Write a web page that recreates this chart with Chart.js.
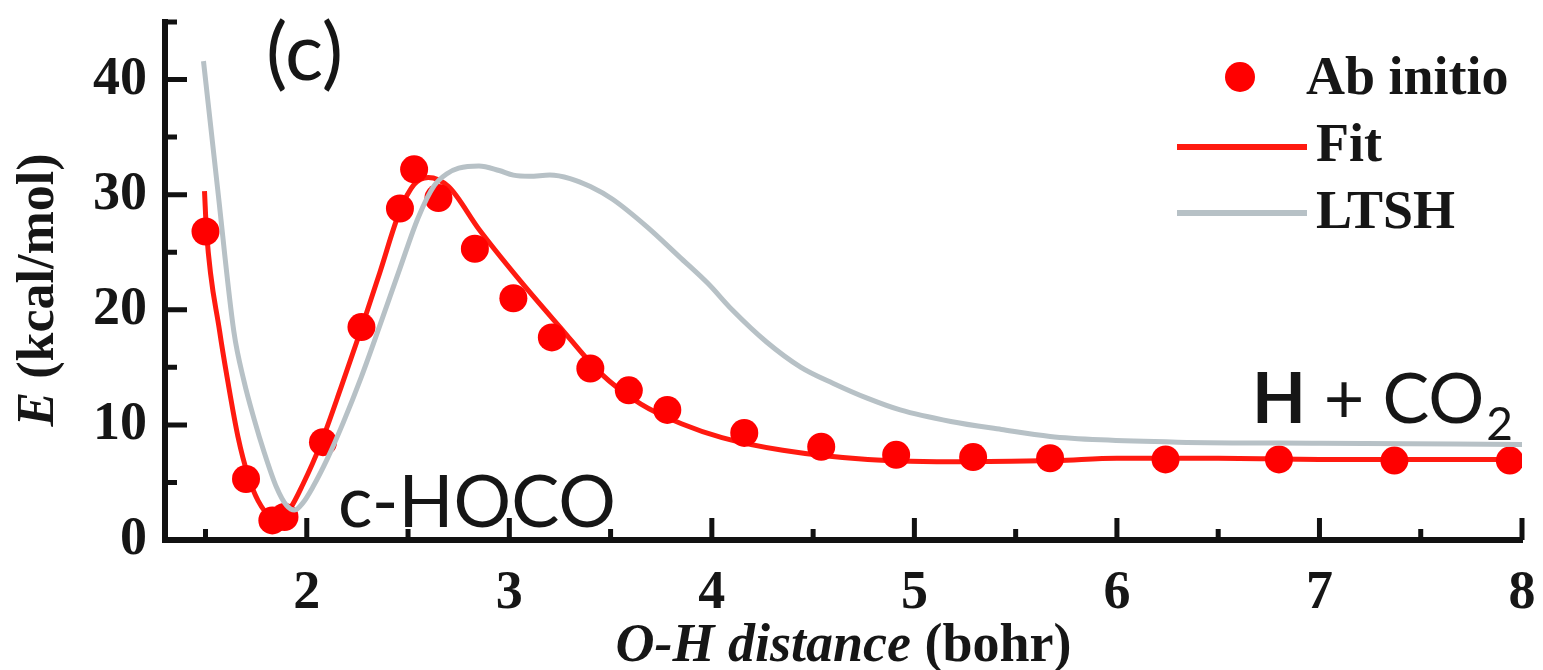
<!DOCTYPE html>
<html>
<head>
<meta charset="utf-8">
<script src="https://cdn.jsdelivr.net/npm/chart.js@4.4.0/dist/chart.umd.min.js"></script>
<style>
  html, body { margin: 0; padding: 0; background: #fff; }
  canvas { display: block; }
</style>
</head>
<body>
<canvas id="pesChart" width="1543" height="670"></canvas>
<script>
// ab initio points (O-H distance in bohr, energy in kcal/mol)
const abX = [1.50, 1.70, 1.83, 1.89, 2.08, 2.27, 2.46, 2.53, 2.65, 2.83, 3.02, 3.21, 3.40, 3.59, 3.78, 4.16, 4.54, 4.91, 5.29, 5.67, 6.24, 6.80, 7.37, 7.94];
const abY = [26.8, 5.3, 1.7, 2.0, 8.5, 18.5, 28.8, 32.2, 29.7, 25.3, 21.0, 17.6, 14.9, 13.0, 11.3, 9.3, 8.1, 7.4, 7.2, 7.1, 7.0, 7.0, 6.9, 6.9];

// fitted curve
const fitX = [1.495, 1.505, 1.57, 1.61, 1.66, 1.71, 1.76, 1.82, 1.87, 1.92, 1.98, 2.07, 2.17, 2.27, 2.36, 2.46, 2.53, 2.60, 2.70, 2.85, 3.05, 3.25, 3.45, 3.65, 3.85, 4.05, 4.35, 4.77, 5.26, 5.70, 6.00, 6.50, 7.00, 8.00];
const fitY = [30.3, 26.8, 18.1, 13.8, 9.0, 5.6, 3.4, 2.1, 2.0, 2.8, 4.8, 8.4, 13.3, 18.4, 23.2, 28.6, 30.9, 31.5, 30.7, 27.0, 22.6, 18.5, 14.5, 11.8, 10.1, 8.9, 7.8, 7.0, 6.8, 6.9, 7.1, 7.1, 7.0, 7.0];

// LTSH surface
const ltshX = [1.49, 1.56, 1.64, 1.69, 1.74, 1.79, 1.85, 1.90, 1.94, 1.98, 2.03, 2.10, 2.18, 2.27, 2.36, 2.46, 2.55, 2.63, 2.69, 2.75, 2.85, 2.95, 3.02, 3.10, 3.20, 3.30, 3.40, 3.51, 3.68, 3.84, 3.98, 4.10, 4.27, 4.44, 4.60, 4.77, 4.93, 5.18, 5.43, 5.67, 5.92, 6.30, 7.00, 8.00];
const ltshY = [41.6, 30.5, 18.1, 13.8, 10.5, 7.6, 4.6, 3.0, 2.6, 3.2, 4.6, 7.0, 10.2, 14.2, 18.6, 23.6, 28.0, 30.8, 31.8, 32.3, 32.5, 32.1, 31.7, 31.6, 31.7, 31.4, 30.7, 29.6, 27.2, 24.6, 22.3, 20.0, 17.2, 15.0, 13.6, 12.3, 11.3, 10.3, 9.6, 9.0, 8.7, 8.5, 8.4, 8.3];

const xTicks = [2, 3, 4, 5, 6, 7, 8];
const xMinor = [1.5, 2.5, 3.5, 4.5, 5.5, 6.5, 7.5];
const yTicks = [0, 10, 20, 30, 40];
const yMinor = [5, 15, 25, 35, 45];

const pts = (xs, ys) => xs.map((v, i) => ({ x: v, y: ys[i] }));

const serif = '"Liberation Serif", "Times New Roman", serif';
const sans = 'Lato, "Open Sans", sans-serif';
const ink = '#161616';

function drawRuns(ctx, runs, x, y) {
  let total = 0;
  runs.forEach(r => { ctx.font = r.f; total += ctx.measureText(r.t).width; });
  let cx = x - total / 2;
  runs.forEach(r => {
    ctx.font = r.f;
    ctx.fillText(r.t, cx, y);
    cx += ctx.measureText(r.t).width;
  });
}

const decor = {
  id: 'decor',
  beforeDatasetsDraw(chart) {
    const { ctx, chartArea: a, scales: { x, y } } = chart;
    ctx.save();
    ctx.strokeStyle = '#111';
    ctx.lineWidth = 5;
    ctx.beginPath();
    xTicks.forEach(v => { const p = x.getPixelForValue(v); ctx.moveTo(p, a.bottom); ctx.lineTo(p, a.bottom - 22); });
    xMinor.forEach(v => { const p = x.getPixelForValue(v); ctx.moveTo(p, a.bottom); ctx.lineTo(p, a.bottom - 11); });
    yTicks.forEach(v => { const p = y.getPixelForValue(v); ctx.moveTo(a.left, p); ctx.lineTo(a.left + 22, p); });
    yMinor.forEach(v => { const p = y.getPixelForValue(v); ctx.moveTo(a.left, p); ctx.lineTo(a.left + 12, p); });
    ctx.stroke();
    ctx.restore();
  },
  afterDraw(chart) {
    const { ctx, chartArea: a } = chart;
    const ds = chart.data.datasets;
    ctx.save();
    ctx.fillStyle = ink;
    ctx.textBaseline = 'alphabetic';

    // axis titles
    drawRuns(ctx, [
      { t: 'O-H distance', f: 'italic bold 54px ' + serif },
      { t: ' (bohr)', f: 'bold 54px ' + serif }
    ], (a.left + a.right) / 2, 661);

    ctx.save();
    ctx.translate(53, 290);
    ctx.rotate(-Math.PI / 2);
    drawRuns(ctx, [
      { t: 'E', f: 'italic bold 52px ' + serif },
      { t: ' (kcal/mol)', f: 'bold 52px ' + serif }
    ], 0, 0);
    ctx.restore();

    // annotations
    ctx.font = '80px ' + sans;
    ctx.fillText('(c)', 266, 80);
    ctx.font = '72px ' + sans;
    ctx.fillText('c-HOCO', 338, 527);

    let hx = 1252;
    ctx.font = 'bold 70px ' + sans;
    ctx.fillText('H', hx, 423);
    hx += ctx.measureText('H').width;
    ctx.font = '70px ' + sans;
    ctx.fillText(' + CO', hx, 423);
    hx += ctx.measureText(' + CO').width;
    ctx.font = '46px ' + sans;
    ctx.fillText('2', hx + 2, 440);

    // legend
    ctx.textBaseline = 'middle';
    ctx.font = 'bold 54px ' + serif;
    ctx.fillStyle = ds[1].pointBackgroundColor;
    ctx.beginPath();
    ctx.arc(1240, 77, 15, 0, Math.PI * 2);
    ctx.fill();
    ctx.fillStyle = ink;
    ctx.fillText(ds[1].label, 1306, 80);

    ctx.lineWidth = 6;
    ctx.strokeStyle = ds[2].borderColor;
    ctx.beginPath(); ctx.moveTo(1177, 147); ctx.lineTo(1307, 147); ctx.stroke();
    ctx.fillText(ds[2].label, 1316, 147);

    ctx.strokeStyle = ds[0].borderColor;
    ctx.beginPath(); ctx.moveTo(1177, 213); ctx.lineTo(1307, 213); ctx.stroke();
    ctx.fillText(ds[0].label, 1316, 214);
    ctx.restore();
  }
};

const tickFont = { family: serif, size: 54, weight: 'bold' };

new Chart(document.getElementById('pesChart'), {
  type: 'scatter',
  data: {
    datasets: [
      {
        label: 'LTSH',
        type: 'line',
        data: pts(ltshX, ltshY),
        borderColor: '#b7c1c6',
        borderWidth: 5,
        pointRadius: 0,
        cubicInterpolationMode: 'monotone',
        fill: false,
        order: 0
      },
      {
        label: 'Ab initio',
        data: pts(abX, abY),
        pointBackgroundColor: '#ff0000',
        pointBorderWidth: 0,
        pointRadius: 14,
        order: 1
      },
      {
        label: 'Fit',
        type: 'line',
        data: pts(fitX, fitY),
        borderColor: '#ff1a10',
        borderWidth: 5,
        pointRadius: 0,
        cubicInterpolationMode: 'monotone',
        fill: false,
        order: 2
      }
    ]
  },
  options: {
    responsive: false,
    animation: false,
    layout: { padding: { left: 0, right: 21, top: 22, bottom: 0 } },
    plugins: {
      legend: { display: false },
      tooltip: { enabled: false }
    },
    scales: {
      x: {
        type: 'linear',
        min: 1.3,
        max: 8,
        grid: { display: false, drawTicks: false },
        border: { display: true, color: '#111', width: 6 },
        ticks: { font: tickFont, color: ink, padding: 22, maxRotation: 0 },
        afterBuildTicks: s => { s.ticks = xTicks.map(v => ({ value: v })); },
        afterFit: s => { s.height = 130; s.paddingLeft = 0; s.paddingRight = 0; }
      },
      y: {
        min: 0,
        max: 45,
        grid: { display: false, drawTicks: false },
        border: { display: true, color: '#111', width: 6 },
        ticks: { font: tickFont, color: ink, padding: 18 },
        afterBuildTicks: s => { s.ticks = yTicks.map(v => ({ value: v })); },
        afterFit: s => { s.width = 165; s.paddingTop = 0; s.paddingBottom = 0; }
      }
    }
  },
  plugins: [decor]
});
</script>
</body>
</html>
